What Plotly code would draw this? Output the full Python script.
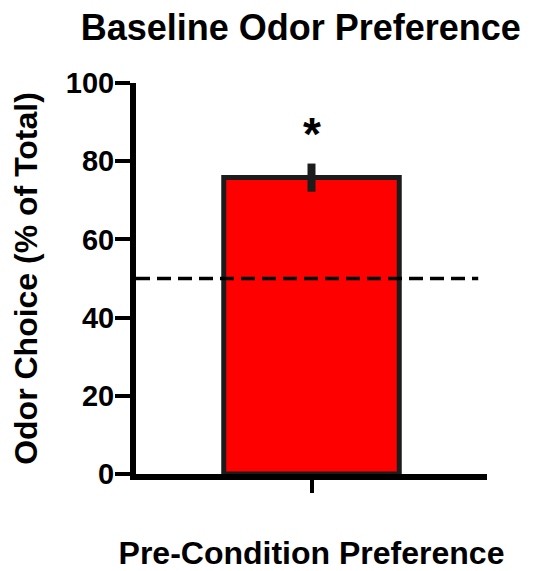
import plotly.graph_objects as go

categories = ["Pre-Condition Preference"]
means = [75.8]
sems = [3.6]
chance_level = 50
significance = ["*"]
y_ticks = [0, 20, 40, 60, 80, 100]

FONT = "Liberation Sans, Arial, Helvetica, sans-serif"
DARK = "#1c1c1c"

fig = go.Figure()
fig.add_trace(go.Bar(
    x=[0], y=means, width=1.0,
    marker=dict(color="#ff0000", line=dict(color=DARK, width=5)),
    error_y=dict(type="data", array=sems, visible=True, thickness=8, width=0, color=DARK),
    showlegend=False,
))
fig.add_trace(go.Scatter(
    x=[-1, 0.95], y=[chance_level, chance_level], mode="lines",
    line=dict(color="black", width=3.5, dash="14px,7px"),
    showlegend=False, hoverinfo="skip",
))
fig.add_annotation(x=0, y=means[0] + sems[0] + 7.5, text=significance[0], showarrow=False,
                   font=dict(family=FONT, size=46, color="black", weight="bold"), yanchor="middle")

fig.update_layout(
    width=542, height=571,
    margin=dict(l=136, r=55, t=83, b=95),
    paper_bgcolor="white", plot_bgcolor="white",
    title=dict(text="Baseline Odor Preference", x=0.555, xanchor="center", y=0.952, yanchor="middle",
               font=dict(family=FONT, size=36, color="black", weight="bold")),
    xaxis=dict(range=[-1, 1], tickvals=[0], ticktext=[""], ticks="outside", ticklen=13, tickwidth=4,
               tickcolor="black", showline=True, linecolor="black", linewidth=6, showgrid=False,
               zeroline=False, fixedrange=True,
               title=dict(text=categories[0], standoff=50,
                          font=dict(family=FONT, size=32, color="black", weight="bold"))),
    yaxis=dict(range=[0, 100], tickvals=y_ticks, ticks="outside", ticklen=15, tickwidth=4,
               tickcolor="black", showline=True, linecolor="black", linewidth=6, showgrid=False,
               zeroline=False, ticklabelstandoff=-5,
               tickfont=dict(family=FONT, size=29, color="black", weight="bold"),
               title=dict(text="Odor Choice (% of Total)", standoff=21,
                          font=dict(family=FONT, size=32, color="black", weight="bold"))),
)
fig.write_html("out.html")
